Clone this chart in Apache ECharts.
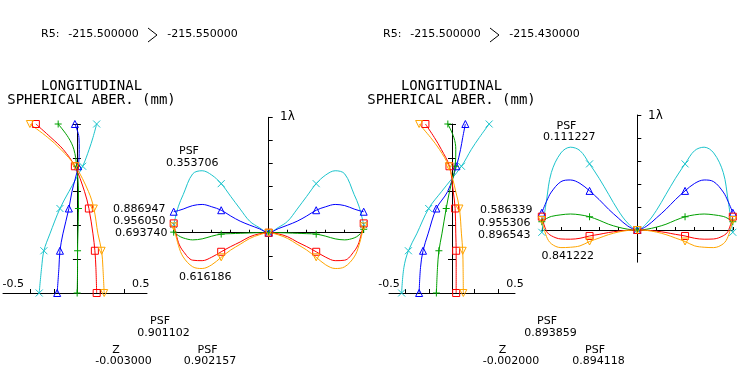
<!DOCTYPE html>
<html><head><meta charset="utf-8">
<script src="https://cdn.jsdelivr.net/npm/echarts@6/dist/echarts.min.js"></script>
<style>html,body{margin:0;padding:0;background:#fff}#c{width:741px;height:379px}</style>
</head><body><div id="c"></div><script>
// ---- data ----
const PUPIL_SA = [0, 0.15, 0.25, 0.35, 0.5, 0.6, 0.75, 0.85, 0.92, 1.0];
// Left: longitudinal aberration (mm) at each pupil height
const sa1Cyan   = [-0.296, -0.277, -0.259, -0.212, -0.133, -0.063, 0.045, 0.096, 0.126, 0.155];
const sa1Blue   = [-0.155, -0.141, -0.133, -0.110, -0.063, -0.039, 0.010, 0.018, 0.016, -0.016];
const sa1Green  = [0.002, 0.005, 0.005, 0.008, 0.012, 0.012, -0.002, -0.024, -0.067, -0.147];
const sa1Red    = [0.155, 0.149, 0.141, 0.126, 0.094, 0.060, -0.016, -0.108, -0.204, -0.322];
const sa1Orange = [0.214, 0.204, 0.194, 0.165, 0.133, 0.091, -0.012, -0.126, -0.228, -0.369];
// Right
const sa3Cyan   = [-0.400, -0.382, -0.346, -0.280, -0.185, -0.083, 0.075, 0.154, 0.217, 0.295];
const sa3Blue   = [-0.261, -0.250, -0.230, -0.190, -0.124, -0.035, 0.035, 0.068, 0.085, 0.106];
const sa3Green  = [-0.124, -0.115, -0.104, -0.080, -0.046, -0.020, 0.025, 0.030, 0.015, -0.033];
const sa3Red    = [0.033, 0.033, 0.033, 0.030, 0.025, 0.010, -0.020, -0.085, -0.140, -0.211];
const sa3Orange = [0.090, 0.088, 0.085, 0.075, 0.059, 0.030, -0.025, -0.100, -0.170, -0.261];

const PUPIL_OPD = [-1,-0.95,-0.9,-0.8,-0.7,-0.6,-0.5,-0.4,-0.3,-0.2,-0.1,0,0.1,0.2,0.3,0.4,0.5,0.6,0.7,0.8,0.9,0.95,1];
// Left OPD fan (waves)
const opd2Cyan   = [0.07,0.23,0.33,0.51,0.537,0.5,0.425,0.315,0.205,0.1,0.045,0,0.045,0.1,0.205,0.315,0.425,0.5,0.537,0.51,0.33,0.23,0.07];
const opd2Blue   = [0.182,0.192,0.205,0.235,0.245,0.225,0.195,0.145,0.1,0.066,0.035,0,0.035,0.066,0.1,0.145,0.195,0.225,0.245,0.235,0.205,0.192,0.182];
const opd2Green  = [0.005,-0.025,-0.045,-0.062,-0.053,-0.03,-0.012,-0.008,-0.005,-0.002,0,0,0,-0.002,-0.005,-0.008,-0.012,-0.03,-0.053,-0.062,-0.045,-0.02,0.03];
const opd2Red    = [0.081,-0.085,-0.16,-0.238,-0.242,-0.212,-0.165,-0.12,-0.08,-0.035,-0.01,0,-0.01,-0.035,-0.08,-0.12,-0.165,-0.212,-0.242,-0.238,-0.16,-0.085,0.081];
const opd2Orange = [0.055,-0.11,-0.21,-0.295,-0.31,-0.278,-0.213,-0.15,-0.1,-0.05,-0.018,0,-0.018,-0.05,-0.1,-0.15,-0.213,-0.278,-0.31,-0.295,-0.21,-0.11,0.055];
// Right OPD fan (waves)
const opd4Cyan   = [-0.02,0.26,0.5,0.67,0.72,0.69,0.575,0.45,0.31,0.17,0.06,0,0.06,0.17,0.31,0.45,0.575,0.69,0.72,0.67,0.5,0.26,-0.02];
const opd4Blue   = [0.15,0.25,0.33,0.42,0.435,0.405,0.34,0.265,0.18,0.105,0.035,0,0.035,0.105,0.18,0.265,0.34,0.405,0.435,0.42,0.33,0.25,0.15];
const opd4Green  = [0.072,0.1,0.118,0.132,0.139,0.132,0.115,0.085,0.05,0.025,0.007,0,0.007,0.025,0.05,0.085,0.115,0.132,0.139,0.132,0.118,0.1,0.072];
const opd4Red    = [0.116,-0.012,-0.05,-0.078,-0.08,-0.072,-0.052,-0.038,-0.022,-0.01,-0.002,0,-0.002,-0.01,-0.022,-0.038,-0.052,-0.072,-0.08,-0.078,-0.05,-0.012,0.116];
const opd4Orange = [0.087,-0.058,-0.12,-0.153,-0.15,-0.138,-0.1,-0.07,-0.04,-0.018,-0.004,0,-0.004,-0.018,-0.04,-0.07,-0.1,-0.138,-0.15,-0.153,-0.12,-0.058,0.087];

const SA_TICKS = [-0.37, -0.18, 0.18, 0.37];
const SA_LABELS = [-0.5, 0.5];
const OPD4_TICKS = [-0.2, 0.2, 0.4, 0.6, 0.8, 1.0];

// ---- styles ----
const C = {cyan:'#1cc4cc', blue:'#0000ff', green:'#00a000', red:'#ff0000', orange:'#ffa500'};
const SYM = {
  cyan:'path://M0,0L10,10M10,0L0,10',
  blue:'triangle',
  green:'path://M5,0L5,10M0,5L10,5',
  red:'rect',
  orange:'path://M0,0L10,0L5,9Z'
};
const SA_MARK = [0, 0.25, 0.5, 0.75, 1];
const OPD_MARK = [-1, -0.5, 0, 0.5, 1];

function saSeries(idx, vals, key){
  return {
    type:'line', xAxisIndex:idx, yAxisIndex:idx*2, smooth:0.35, clip:false,
    data: PUPIL_SA.map((p,i)=>[vals[i], p]),
    symbol: SYM[key],
    symbolSize: v => SA_MARK.indexOf(v[1]) >= 0 ? 7 : 0,
    lineStyle:{color:C[key], width:1},
    itemStyle:{color:'rgba(0,0,0,0)', borderColor:C[key], borderWidth:1},
    emphasis:{disabled:true}, silent:true
  };
}
function opdSeries(idx, vals, key){
  return {
    type:'line', xAxisIndex:idx, yAxisIndex:idx*2, smooth:0.35, clip:false,
    data: PUPIL_OPD.map((p,i)=>[p, vals[i]]),
    symbol: SYM[key],
    symbolSize: v => OPD_MARK.indexOf(v[0]) >= 0 ? 7 : 0,
    lineStyle:{color:C[key], width:1},
    itemStyle:{color:'rgba(0,0,0,0)', borderColor:C[key], borderWidth:1},
    emphasis:{disabled:true}, silent:true
  };
}

const AX = {color:'#000', width:1};
const LBL = {color:'#000', fontFamily:'DejaVu Sans', fontSize:11};

function saX(gi, min, max){
  return {gridIndex:gi, type:'value', min, max,
    axisLine:{onZero:false, lineStyle:AX},
    axisTick:{inside:true, length:4, customValues:SA_TICKS, lineStyle:AX},
    axisLabel:Object.assign({inside:true, margin:3, customValues:SA_LABELS,
      formatter:v=>String(v)}, LBL),
    splitLine:{show:false}};
}
function saY(gi){
  return {gridIndex:gi, type:'value', min:0, max:1, interval:0.2, position:'left',
    axisLine:{onZero:true, lineStyle:AX},
    axisTick:{inside:false, length:4, lineStyle:AX},
    axisLabel:{show:false}, splitLine:{show:false}};
}
// companion axis drawn on the same zero line, ticks pointing the other way
function saY2(gi, offset){
  return {gridIndex:gi, type:'value', min:0, max:1, interval:0.2, position:'right', offset,
    axisLine:{show:false, onZero:false},
    axisTick:{inside:false, length:4, lineStyle:AX},
    axisLabel:{show:false}, splitLine:{show:false}};
}
function opdX(gi){
  return {gridIndex:gi, type:'value', min:-1, max:1, interval:0.2,
    axisLine:{onZero:true, lineStyle:AX},
    axisTick:{inside:true, length:3, lineStyle:AX},
    axisLabel:{show:false}, splitLine:{show:false}};
}
function opdY(gi, min, ticks){
  const t = {inside:true, length:4, lineStyle:AX};
  if (ticks) t.customValues = ticks;
  return {gridIndex:gi, type:'value', min, max:1, interval:0.2,
    axisLine:{onZero:true, lineStyle:AX},
    axisTick:t, axisLabel:{show:false}, splitLine:{show:false}};
}

function txt(x, y, s, align, font){
  return {type:'text', x, y, silent:true,
    style:{text:s, x:0, y:0, fill:'#000', font: font || '11px "DejaVu Sans"',
      align: align||'left', verticalAlign:'middle',
      textAlign: align||'left', textVerticalAlign:'middle'}};
}
const TF = '14px "DejaVu Sans Mono"';

const graphics = [
  txt(41,34,'R5:'), txt(103.5,34,'-215.500000','center'), txt(202.5,34,'-215.550000','center'),
  txt(383,34,'R5:'), txt(445.5,34,'-215.500000','center'), txt(544.5,34,'-215.430000','center'),
  {type:'polyline', shape:{points:[[148,28],[157,35],[148,42]]}, style:{stroke:'#000', lineWidth:1, fill:null}, silent:true},
  {type:'polyline', shape:{points:[[490,28],[499,35],[490,42]]}, style:{stroke:'#000', lineWidth:1, fill:null}, silent:true},
  txt(91.5,86,'LONGITUDINAL','center',TF), txt(91.5,100,'SPHERICAL ABER. (mm)','center',TF),
  txt(451.5,86,'LONGITUDINAL','center',TF), txt(451.5,100,'SPHERICAL ABER. (mm)','center',TF),
  txt(280,117,'1λ','left','12px "DejaVu Sans"'), txt(648,116,'1λ','left','12px "DejaVu Sans"'),
  txt(179,151,'PSF'), txt(166,163,'0.353706'),
  txt(113,209.5,'0.886947'), txt(113,221,'0.956050'), txt(115,232.7,'0.693740'),
  txt(179,277.5,'0.616186'),
  txt(556.5,126,'PSF'), txt(543,137.5,'0.111227'),
  txt(480,209.7,'0.586339'), txt(478,223.5,'0.955306'), txt(478,235,'0.896543'),
  txt(541.5,256,'0.841222'),
  txt(160,321,'PSF','center'), txt(163.5,333,'0.901102','center'),
  txt(116,350,'Z','center'), txt(123.5,361,'-0.003000','center'),
  txt(207.5,350,'PSF','center'), txt(210,361,'0.902157','center'),
  txt(547,321,'PSF','center'), txt(550.5,333,'0.893859','center'),
  txt(502.5,350,'Z','center'), txt(511,361,'-0.002000','center'),
  txt(595,350,'PSF','center'), txt(598.5,361,'0.894118','center')
];

const chart = echarts.init(document.getElementById('c'), null, {renderer:'canvas'});
const G0 = {left:3, width:144, min:-0.58, max:0.55};
const G2 = {left:389, width:126, min:-0.5, max:0.5};
const off0 = -(G0.width * G0.max / (G0.max - G0.min));
const off2 = -(G2.width * G2.max / (G2.max - G2.min));
chart.setOption({
  animation:false,
  backgroundColor:'#fff',
  grid:[
    {left:G0.left, top:124, width:G0.width, height:169, outerBoundsMode:'none', containLabel:false},
    {left:173.7, top:117.3, width:190, height:161.6, outerBoundsMode:'none', containLabel:false},
    {left:G2.left, top:124, width:G2.width, height:169, outerBoundsMode:'none', containLabel:false},
    {left:541.8, top:115, width:191, height:147.2, outerBoundsMode:'none', containLabel:false}
  ],
  xAxis:[saX(0,G0.min,G0.max), opdX(1), saX(2,G2.min,G2.max), opdX(3)],
  yAxis:[
    saY(0), saY2(0, off0),
    opdY(1,-0.4), Object.assign(opdY(1,-0.4),{show:false}),
    saY(2), saY2(2, off2),
    opdY(3,-0.28,OPD4_TICKS), Object.assign(opdY(3,-0.28,OPD4_TICKS),{show:false})
  ],
  series:[
    saSeries(0,sa1Cyan,'cyan'), saSeries(0,sa1Blue,'blue'), saSeries(0,sa1Green,'green'),
    saSeries(0,sa1Red,'red'), saSeries(0,sa1Orange,'orange'),
    opdSeries(1,opd2Cyan,'cyan'), opdSeries(1,opd2Blue,'blue'), opdSeries(1,opd2Green,'green'),
    opdSeries(1,opd2Red,'red'), opdSeries(1,opd2Orange,'orange'),
    saSeries(2,sa3Cyan,'cyan'), saSeries(2,sa3Blue,'blue'), saSeries(2,sa3Green,'green'),
    saSeries(2,sa3Red,'red'), saSeries(2,sa3Orange,'orange'),
    opdSeries(3,opd4Cyan,'cyan'), opdSeries(3,opd4Blue,'blue'), opdSeries(3,opd4Green,'green'),
    opdSeries(3,opd4Red,'red'), opdSeries(3,opd4Orange,'orange')
  ],
  graphic: graphics
});
</script></body></html>
